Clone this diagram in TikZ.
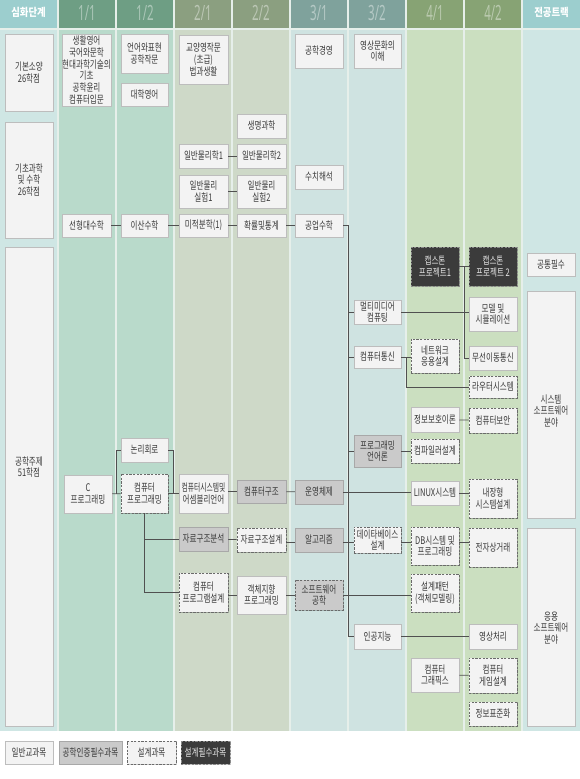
\documentclass[tikz,border=0pt]{standalone}
\usepackage{fontspec}
\usepackage{graphicx}
\usetikzlibrary{shadows}
\newfontfamily\kr{Noto Sans CJK KR}[FakeStretch=0.72]
\newfontfamily\krh{Noto Sans CJK KR}[FakeStretch=0.85]
\newfontfamily\numf{Noto Sans}[FakeStretch=0.55]
\definecolor{gapcol}{HTML}{E6EFEA}
\definecolor{hA}{HTML}{9CCECE}
\definecolor{hB}{HTML}{6E9E84}
\definecolor{hC}{HTML}{8B9F80}
\definecolor{hD}{HTML}{7FA29C}
\definecolor{hE}{HTML}{87A374}
\definecolor{bA}{HTML}{CFE6E4}
\definecolor{bB}{HTML}{B9DACB}
\definecolor{bC}{HTML}{CED9C8}
\definecolor{bD}{HTML}{CFE3E1}
\definecolor{bE}{HTML}{CBDFC0}
\definecolor{boxfill}{HTML}{F3F3F3}
\definecolor{boxline}{HTML}{BDBDBD}
\definecolor{reqfill}{HTML}{CACACA}
\definecolor{reqline}{HTML}{A8A8A8}
\definecolor{desline}{HTML}{6A6A6A}
\definecolor{darkfill}{HTML}{3B3B3B}
\definecolor{darkline}{HTML}{8A8A8A}
\definecolor{txt}{HTML}{3A3A3A}
\definecolor{linecol}{HTML}{505050}
\tikzset{
  base/.style={inner sep=0pt, align=center, text=txt,
    font=\kr\fontsize{10.5}{11.8}\selectfont,
    drop shadow={shadow xshift=0.8pt, shadow yshift=-0.9pt, opacity=0.22, fill=black}},
  gen/.style={base, fill=boxfill, draw=boxline, line width=0.5pt},
  req/.style={base, fill=reqfill, draw=reqline, line width=0.5pt},
  des/.style={base, fill=boxfill, draw=desline, line width=0.8pt, dash pattern=on 2.2pt off 1.4pt},
  reqdes/.style={base, fill=reqfill, draw=desline, line width=0.8pt, dash pattern=on 2.2pt off 1.4pt},
  dreq/.style={base, fill=darkfill, draw=darkline, line width=0.8pt, dash pattern=on 2.2pt off 1.4pt, text=white!90!black},
  plain/.style={inner sep=0pt, align=center, text=txt, font=\kr\fontsize{10.5}{11.8}\selectfont},
  hnum/.style={inner sep=0pt, text=white, opacity=0.42, font=\numf\fontsize{21}{21}\selectfont},
  htxt/.style={inner sep=0pt, text=white, font=\krh\bfseries\fontsize{11}{11}\selectfont},
  conn/.style={draw=linecol, line width=0.75pt},
}
\newcommand\cb[7]{\node[#2, minimum width={#5-#3}, minimum height={#6-#4}] (#1) at ({(#3+#5)/2},{(#4+#6)/2}) {#7};}
\begin{document}
\begin{tikzpicture}[x=1pt,y=-1pt]
\useasboundingbox (0,0) rectangle (580,779);
\fill[white] (0,0) rectangle (580,779);
% background
\fill[gapcol] (0,0) rectangle (580,731);
% header cells
\fill[hA] (0,0) rectangle (57,28);
\fill[hB] (59,0) rectangle (115,28);
\fill[hB] (117,0) rectangle (173,28);
\fill[hC] (175,0) rectangle (231,28);
\fill[hC] (233,0) rectangle (289,28);
\fill[hD] (291,0) rectangle (347,28);
\fill[hD] (349,0) rectangle (405,28);
\fill[hE] (407,0) rectangle (463,28);
\fill[hE] (465,0) rectangle (521,28);
\fill[hA] (523,0) rectangle (580,28);
% body columns
\fill[bA] (0,29.5) rectangle (57,731);
\fill[bB] (59,29.5) rectangle (115,731);
\fill[bB] (117,29.5) rectangle (173,731);
\fill[bC] (175,29.5) rectangle (231,731);
\fill[bC] (233,29.5) rectangle (289,731);
\fill[bD] (291,29.5) rectangle (347,731);
\fill[bD] (349,29.5) rectangle (405,731);
\fill[bE] (407,29.5) rectangle (463,731);
\fill[bE] (465,29.5) rectangle (521,731);
\fill[bA] (523,29.5) rectangle (580,731);
% header texts
\node[htxt] (h0) at (28.5,12) {심화단계};
\node[hnum] (h1) at (87,13) {1/1};
\node[hnum] (h2) at (145,13) {1/2};
\node[hnum] (h3) at (203,13) {2/1};
\node[hnum] (h4) at (261,13) {2/2};
\node[hnum] (h5) at (319,13) {3/1};
\node[hnum] (h6) at (377,13) {3/2};
\node[hnum] (h7) at (435,13) {4/1};
\node[hnum] (h8) at (493,13) {4/2};
\node[htxt] (h9) at (551.5,12) {전공트랙};
% row label boxes
\cb{L1}{gen}{5}{34}{53}{111}{기본소양\\26학점}
\cb{L2}{gen}{5}{122}{53}{238}{기초과학\\및 수학\\26학점}
\cb{L3}{gen}{5}{247}{53}{726}{}
\node[plain] (L3t) at (29,467) {공학주제\\51학점};
% track boxes
\cb{common}{gen}{527}{253}{575}{276}{공통필수}
\cb{sys}{gen}{527}{291}{575}{518}{}
\node[plain] (syst) at (551,411) {시스템\\소프트웨어\\분야};
\cb{app}{gen}{527}{528}{575}{726}{}
\node[plain] (appt) at (551,628) {응용\\소프트웨어\\분야};
% basic courses
\cb{b1}{gen}{62}{34}{111}{106}{생활영어\\국어와문학\\\makebox[44pt]{현대과학기술의}\\기초\\공학윤리\\컴퓨터입문}
\cb{b2}{gen}{121}{34}{168}{73}{언어와표현\\공학작문}
\cb{b3}{gen}{121}{83}{168}{106}{대학영어}
\cb{b4}{gen}{179}{35}{228}{84}{교양영작문\\(초급)\\법과생활}
\cb{b5}{gen}{295}{34}{343}{68}{공학경영}
\cb{b6}{gen}{354}{34}{401}{68}{영상문화의\\이해}
% science & math
\cb{bio}{gen}{237}{114}{286}{138}{생명과학}
\cb{phys1}{gen}{179}{144}{228}{168}{일반물리학1}
\cb{phys2}{gen}{237}{144}{286}{168}{일반물리학2}
\cb{lab1}{gen}{179}{175}{228}{208}{일반물리\\실험1}
\cb{lab2}{gen}{237}{175}{286}{208}{일반물리\\실험2}
\cb{num}{gen}{295}{165}{343}{189}{수치해석}
\cb{lin}{gen}{62}{214}{111}{237}{선형대수학}
\cb{disc}{gen}{121}{214}{168}{237}{이산수학}
\cb{calc}{gen}{179}{214}{228}{237}{미적분학(1)}
\cb{prob}{gen}{237}{214}{286}{237}{확률및통계}
\cb{emath}{gen}{295}{214}{343}{237}{공업수학}
% major
\cb{cap1}{dreq}{411}{247}{459}{286}{캡스톤\\프로젝트1}
\cb{cap2}{dreq}{469}{247}{517}{286}{캡스톤\\프로젝트 2}
\cb{mm}{gen}{354}{300}{401}{324}{멀티미디어\\컴퓨팅}
\cb{model}{gen}{469}{297}{517}{331}{모델 및\\시뮬레이션}
\cb{net}{des}{411}{339}{459}{373}{네트워크\\응용설계}
\cb{comm}{gen}{354}{346}{401}{368}{컴퓨터통신}
\cb{wireless}{gen}{469}{346}{517}{370}{무선이동통신}
\cb{router}{des}{469}{376}{517}{398}{라우터시스템}
\cb{infosec}{gen}{411}{407}{459}{432}{정보보호이론}
\cb{csec}{des}{469}{408}{517}{433}{컴퓨터보안}
\cb{logic}{gen}{121}{438}{168}{462}{논리회로}
\cb{plang}{req}{354}{435}{401}{467}{프로그래밍\\언어론}
\cb{compiler}{des}{411}{439}{459}{463}{컴파일러설계}
\cb{cprog}{gen}{64}{475}{112}{513}{C\\프로그래밍}
\cb{cpp}{des}{121}{474}{168}{513}{컴퓨터\\프로그래밍}
\cb{csys}{gen}{179}{474}{228}{513}{\scalebox{0.9}[1]{컴퓨터시스템및}\\어셈블리언어}
\cb{carch}{req}{237}{480}{286}{503}{컴퓨터구조}
\cb{os}{req}{295}{480}{343}{504}{운영체제}
\cb{linux}{gen}{411}{481}{459}{505}{LINUX시스템}
\cb{embed}{des}{469}{479}{517}{518}{내장형\\시스템설계}
\cb{dsa}{req}{179}{527}{228}{551}{자료구조분석}
\cb{dsd}{des}{237}{528}{286}{552}{자료구조설계}
\cb{algo}{req}{295}{528}{343}{552}{알고리즘}
\cb{dbd}{des}{354}{527}{401}{553}{데이타베이스\\설계}
\cb{dbs}{des}{411}{527}{459}{565}{DB시스템 및\\프로그래밍}
\cb{ecom}{des}{469}{528}{517}{567}{전자상거래}
\cb{cpd}{des}{179}{573}{228}{612}{컴퓨터\\프로그램설계}
\cb{oop}{gen}{237}{576}{286}{614}{객체지향\\프로그래밍}
\cb{swe}{reqdes}{295}{580}{343}{610}{소프트웨어\\공학}
\cb{dp}{des}{411}{574}{459}{612}{설계패턴\\(객체모델링)}
\cb{ai}{gen}{354}{624}{401}{649}{인공지능}
\cb{img}{gen}{469}{624}{517}{649}{영상처리}
\cb{cg}{gen}{411}{658}{459}{692}{컴퓨터\\그래픽스}
\cb{game}{des}{469}{658}{517}{693}{컴퓨터\\게임설계}
\cb{std}{des}{469}{702}{517}{726}{정보표준화}
% legend
\cb{lg1}{gen}{5}{741}{53}{764}{일반교과목}
\cb{lg2}{req}{59}{741}{122}{764}{공학인증필수과목}
\cb{lg3}{des}{127}{741}{176}{764}{설계과목}
\cb{lg4}{dreq}{181}{741}{230}{764}{설계필수과목}
% helper coordinates
\coordinate (sp) at (348,0);
\coordinate (rj) at (406,0);
\coordinate (cj) at (464,0);
\coordinate (ya) at (0,542);
\coordinate (yb) at (0,595);
% connectors
\draw[conn] (phys1) -- (phys2);
\draw[conn] (lab1) -- (lab2);
\draw[conn] (lin) -- (disc);
\draw[conn] (disc) -- (calc);
\draw[conn] (calc) -- (prob);
\draw[conn] (prob) -- (emath);
\draw[conn] (emath.east) -- (emath.east -| sp) |- (ai.west);
\draw[conn] (sp |- mm.west) -- (mm.west);
\draw[conn] (sp |- comm.west) -- (comm.west);
\draw[conn] (sp |- plang.west) -- (plang.west);
\draw[conn] (mm.east) -- (mm.east -| model.west);
\draw[conn] (comm.east) -- (comm.east -| net.west);
\draw[conn] (rj |- comm.east) |- (router.west);
\draw[conn] (cap1) -- (cap2);
\draw[conn] (cj |- cap1.east) |- (wireless.west);
\draw[conn] (infosec) -- (csec);
\draw[conn] (plang.east) -- (plang.east -| compiler.west);
\draw[conn] (cprog) -- (cpp);
\draw[conn] (cprog.east) ++(4,0) |- (logic.west);
\draw[conn] (logic.east) -- ++(5,0) |- (csys.west);
\draw[conn] (cpp.east |- csys.west) -- (csys.west);
\draw[conn] (carch.west -| csys.east) -- (carch.west);
\draw[conn] (carch) -- (os);
\draw[conn] (os.east) -- (os.east -| linux.west);
\draw[conn] (linux.east) -- (linux.east -| embed.west);
\draw[conn] (cpp.south) |- (cpd.west);
\draw[conn] (cpp.south |- dsa.west) -- (dsa.west);
\draw[conn] (dsa) -- (dsd);
\draw[conn] (dsd.east |- ya) -- (algo.west |- ya);
\draw[conn] (algo.east |- ya) -- (dbd.west |- ya);
\draw[conn] (dbd.east |- ya) -- (dbs.west |- ya);
\draw[conn] (dbs.east |- ya) -- (ecom.west |- ya);
\draw[conn] (cpd.east |- yb) -- (oop.west |- yb);
\draw[conn] (oop.east |- yb) -- (swe.west |- yb);
\draw[conn] (swe.east |- yb) -- (dp.west |- yb);
\draw[conn] (ai) -- (img);
\draw[conn] (cg) -- (game);
\end{tikzpicture}
\end{document}
